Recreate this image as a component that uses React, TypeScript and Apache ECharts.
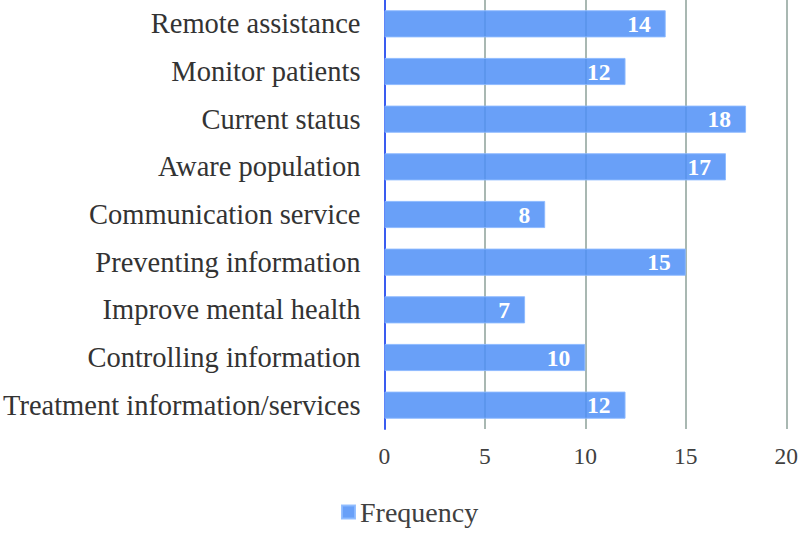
import React, { useEffect, useRef } from "react";
import * as echarts from "echarts";

const categories = [
  "Remote assistance",
  "Monitor patients",
  "Current status",
  "Aware population",
  "Communication service",
  "Preventing information",
  "Improve mental health",
  "Controlling information",
  "Treatment information/services",
];
const frequency = [14, 12, 18, 17, 8, 15, 7, 10, 12];
const seriesName = "Frequency";

export default function App() {
  const ref = useRef<HTMLDivElement>(null);
  useEffect(() => {
    document.body.style.margin = "0";
    const chart = echarts.init(ref.current!, null, { renderer: "svg" });
    const font = "'Liberation Serif', 'Times New Roman', serif";
    chart.setOption({
      animation: false,
      textStyle: { fontFamily: font },
      legend: {
        data: [seriesName],
        top: 493,
        left: 336,
        itemWidth: 13,
        itemHeight: 13,
        itemGap: 8,
        icon: "rect",
        textStyle: { fontFamily: font, fontSize: 28, color: "#404040" },
      },
      grid: { left: 383, top: 0, width: 406.7, height: 429, containLabel: false },
      xAxis: {
        type: "value",
        min: 0,
        max: 20,
        interval: 5,
        axisLine: { show: false },
        axisTick: { show: false },
        splitLine: { show: true, lineStyle: { color: "#a9b8b2", width: 2 } },
        axisLabel: { fontFamily: font, fontSize: 23.5, color: "#404040", margin: 15 },
      },
      yAxis: {
        type: "category",
        data: categories,
        inverse: true,
        axisLine: { show: true, lineStyle: { color: "#3a5cf0", width: 2 } },
        axisTick: { show: false },
        axisLabel: { fontFamily: font, fontSize: 28.5, color: "#333333", margin: 24 },
      },
      series: [
        {
          name: seriesName,
          type: "bar",
          data: frequency,
          barWidth: "57%",
          itemStyle: { color: "rgba(79,143,247,0.85)", borderColor: "rgba(140,185,255,0.9)", borderWidth: 1 },
          label: {
            show: true,
            position: "insideRight",
            distance: 15,
            color: "#ffffff",
            fontWeight: "bold",
            fontFamily: font,
            fontSize: 23.5,
          },
        },
      ],
    });
    return () => chart.dispose();
  }, []);
  return <div ref={ref} style={{ position: "absolute", left: 0, top: 0, width: 801, height: 537 }} />;
}
